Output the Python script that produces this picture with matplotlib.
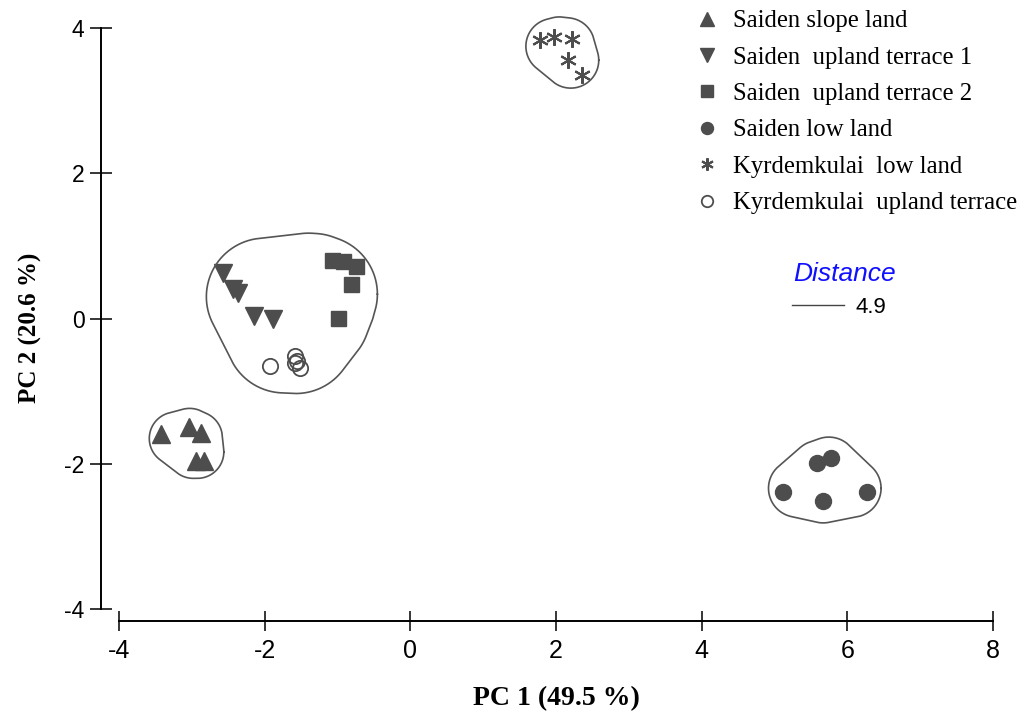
import matplotlib
matplotlib.use("Agg")
import matplotlib.pyplot as plt
from matplotlib.lines import Line2D
import numpy as np

plt.rcParams["axes.unicode_minus"] = False

# PCA scores
slope_x = [-3.42, -3.04, -2.87, -2.94, -2.83]
slope_y = [-1.59, -1.49, -1.57, -1.96, -1.96]

terrace1_x = [-2.57, -2.43, -2.37, -2.14, -1.89]
terrace1_y = [0.63, 0.41, 0.35, 0.04, 0.00]

terrace2_x = [-1.08, -0.93, -0.74, -0.81, -0.99]
terrace2_y = [0.80, 0.79, 0.72, 0.47, 0.01]

lowland_x = [5.12, 5.58, 5.78, 5.66, 6.27]
lowland_y = [-2.39, -1.99, -1.92, -2.51, -2.39]

kyrd_low_x = [1.78, 1.97, 2.22, 2.16, 2.36]
kyrd_low_y = [3.83, 3.88, 3.85, 3.56, 3.35]

kyrd_up_x = [-1.92, -1.59, -1.55, -1.52, -1.58]
kyrd_up_y = [-0.66, -0.51, -0.58, -0.68, -0.61]

labels = ["Saiden slope land", "Saiden  upland terrace 1", "Saiden  upland terrace 2",
          "Saiden low land", "Kyrdemkulai  low land", "Kyrdemkulai  upland terrace"]

GREY = "#4d4d4d"
SERIF = ["Liberation Serif", "DejaVu Serif"]
SANS = ["Liberation Sans", "DejaVu Sans"]


def smooth_hull(xs, ys, r, k=0.4, n=400):
    """Points pulled toward their centre, hull grown by a disc -> rounded outline."""
    pts = np.column_stack([xs, ys])
    c = pts.mean(axis=0)
    th = np.linspace(0, 2 * np.pi, n)
    u = np.column_stack([np.cos(th), np.sin(th)])
    spread = np.max((pts - c) @ u.T, axis=0).mean()
    small = c + k * (pts - c)
    idx = np.argmax(small @ u.T, axis=0)
    return small[idx] + (r + (1 - k) * spread) * u


fig = plt.figure(figsize=(10.25, 7.17), dpi=100)
ax = fig.add_axes([119 / 1025, 108 / 717, 874 / 1025, 581 / 717])

ax.plot(slope_x, slope_y, "^", color=GREY, ms=13, ls="none", label=labels[0])
ax.plot(terrace1_x, terrace1_y, "v", color=GREY, ms=13, ls="none", label=labels[1])
ax.plot(terrace2_x, terrace2_y, "s", color=GREY, ms=10.8, ls="none", label=labels[2])
ax.plot(lowland_x, lowland_y, "o", color=GREY, ms=11.5, ls="none", label=labels[3])
ax.plot(kyrd_low_x, kyrd_low_y, marker=(6, 2, 0), color=GREY, ms=12, mew=1.5,
        ls="none", label=labels[4])
ax.plot(kyrd_up_x, kyrd_up_y, "o", mfc="none", mec=GREY, ms=11, mew=1.3,
        ls="none", label=labels[5])

# cluster outlines
groups = [
    (slope_x, slope_y, 0.23, 0.5),
    (terrace1_x + terrace2_x + kyrd_up_x, terrace1_y + terrace2_y + kyrd_up_y, 0.30, 0.4),
    (kyrd_low_x, kyrd_low_y, 0.22, 0.4),
    (lowland_x, lowland_y, 0.25, 0.65),
]
for gx, gy, r, k in groups:
    h = smooth_hull(gx, gy, r, k)
    ax.plot(h[:, 0], h[:, 1], color="#555555", lw=1.2, clip_on=False)

ax.set_xlim(-4, 8)
ax.set_ylim(-4, 4)
ax.set_xticks([-4, -2, 0, 2, 4, 6, 8])
ax.set_yticks([-4, -2, 0, 2, 4])
for s in ["top", "right"]:
    ax.spines[s].set_visible(False)
ax.spines["left"].set_position(("outward", 13))
ax.spines["bottom"].set_position(("outward", 8.6))
ax.spines["left"].set_linewidth(1.4)
ax.spines["bottom"].set_linewidth(1.4)
ax.tick_params(axis="y", direction="inout", length=15.5, width=1.1, pad=4, labelsize=16.5)
ax.tick_params(axis="x", direction="inout", length=14.5, width=1.1, pad=6, labelsize=18)
for t in ax.get_xticklabels() + ax.get_yticklabels():
    t.set_family(SANS)
ax.patch.set_visible(False)

ax.set_xlabel("PC 1 (49.5 %)", family=SERIF, fontweight="bold", fontsize=20, va="top")
ax.xaxis.set_label_coords(0.501, -0.132)
ax.set_ylabel("PC 2 (20.6 %)", family=SERIF, fontweight="bold", fontsize=18)
ax.yaxis.set_label_coords(-0.088, 0.484)

fig.legend(loc="upper left", bbox_to_anchor=(695 / 1025, 1 - 10 / 717),
           frameon=False, borderpad=0, borderaxespad=0, handlelength=1.0,
           handletextpad=0.55, labelspacing=0.57, markerscale=0.75,
           prop={"family": SERIF, "size": 17.8})

fig.text(793 / 1025, 1 - 281 / 717, "Distance", color="#1010ff", style="italic",
         family=SANS, fontsize=19, ha="left", va="baseline")
fig.add_artist(Line2D([792 / 1025, 844 / 1025], [1 - 305 / 717, 1 - 305 / 717],
                      color="#444444", lw=1.0))
fig.text(855 / 1025, 1 - 313 / 717, "4.9", color="black", family=SANS,
         fontsize=16, ha="left", va="baseline")

fig.savefig("out.png", dpi=100)
